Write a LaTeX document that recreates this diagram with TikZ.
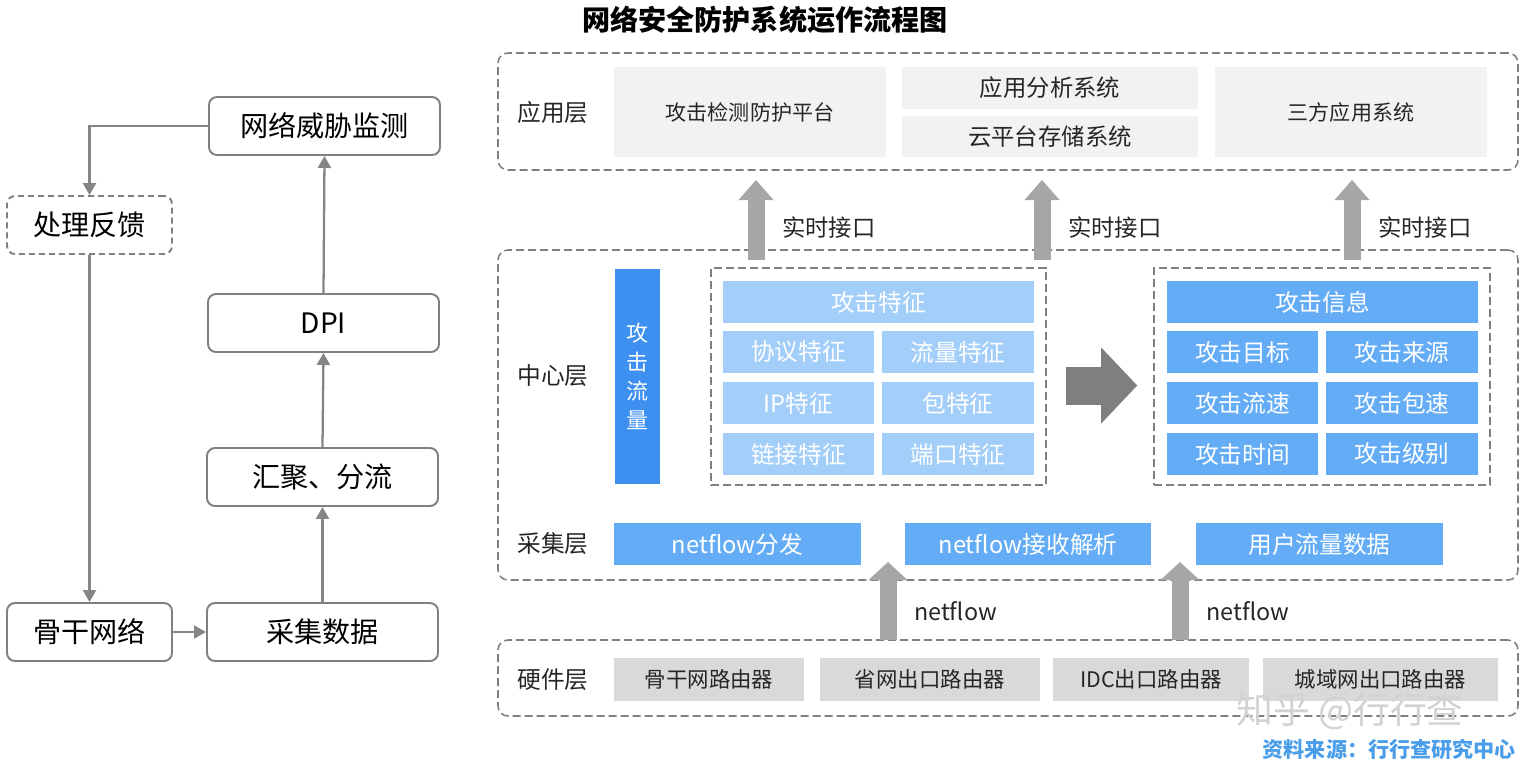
\documentclass[tikz,border=0pt]{standalone}
\usepackage{fontspec}
\setmainfont{Noto Sans CJK SC}
\usetikzlibrary{arrows.meta,fit,calc}

\definecolor{linegray}{HTML}{808080}
\definecolor{arrowgray}{HTML}{858585}
\definecolor{blockgray}{HTML}{A6A6A6}
\definecolor{bigarrowgray}{HTML}{7F7F7F}
\definecolor{appfill}{HTML}{F2F2F2}
\definecolor{hwfill}{HTML}{D9D9D9}
\definecolor{darkblue}{HTML}{3D8FF0}
\definecolor{midblue}{HTML}{64ADF6}
\definecolor{lightblue}{HTML}{A2CEF9}
\definecolor{srcblue}{HTML}{4A9DE8}
\definecolor{textdark}{HTML}{262626}

\tikzset{
  flowtxt/.style={label={[text=black, font=\fontsize{16}{18}\selectfont]center:#1}},
  apptxt/.style={label={[text=textdark, font=\fontsize{12}{14}\selectfont]center:#1}},
  appbigtxt/.style={label={[text=textdark, font=\fontsize{13.3}{15}\selectfont]center:#1}},
  hwtxt/.style={label={[text=textdark, font=\fontsize{12.2}{14}\selectfont]center:#1}},
  celltxt/.style={label={[text=white, font=\fontsize{13.5}{15}\selectfont]center:#1}},
  flowbox/.style={draw=linegray, line width=1.1pt, rounded corners=0.16cm, fill=white, inner sep=0pt},
  flowdash/.style={flowbox, dash pattern=on 0.12cm off 0.08cm},
  flowarrow/.style={draw=arrowgray, line width=1.3pt, -{Triangle[width=0.26cm,length=0.24cm]}},
  layerbox/.style={draw=linegray, line width=0.9pt, rounded corners=0.2cm,
    dash pattern=on 0.16cm off 0.08cm, inner sep=0pt},
  innerbox/.style={draw=linegray, line width=0.9pt, dash pattern=on 0.16cm off 0.08cm, inner sep=0pt},
  layername/.style={text=textdark, font=\fontsize{13.5}{15}\selectfont},
  appcell/.style={fill=appfill, inner sep=0pt},
  hwcell/.style={fill=hwfill, inner sep=0pt},
  lightcell/.style={fill=lightblue, inner sep=0pt},
  bluecell/.style={fill=midblue, inner sep=0pt},
  blockarrow/.style={draw=blockgray, line width=0.34cm,
    -{Triangle[width=0.7cm,length=0.4cm,line width=0pt]}},
  netarrow/.style={draw=blockgray, line width=0.34cm,
    -{Triangle[width=0.78cm,length=0.36cm,line width=0pt]}},
  fatarrow/.style={draw=bigarrowgray, line width=0.76cm,
    -{Triangle[width=1.52cm,length=0.72cm,line width=0pt]}},
  sidetext/.style={anchor=west, text=textdark, font=\fontsize{13.3}{15}\selectfont}
}

\begin{document}
\begin{tikzpicture}[x=0.02cm, y=-0.02cm]
  \useasboundingbox (0,0) rectangle (1530,769);

  % flow on the left
  \node[flowbox, fit={(209,97) (440,155)}, flowtxt=网络威胁监测] (monitor) {};
  \node[flowdash, fit={(7,196) (172,254)}, flowtxt=处理反馈] (feedback) {};
  \node[flowbox, fit={(208,294) (439,352)}, flowtxt=DPI] (dpi) {};
  \node[flowbox, fit={(207,448) (438,506)}, flowtxt=汇聚、分流] (converge) {};
  \node[flowbox, fit={(7,603) (172,661)}, flowtxt=骨干网络] (backbone) {};
  \node[flowbox, fit={(207,603) (438,661)}, flowtxt=采集数据] (collect) {};

  \draw[flowarrow] (monitor.west) -| (feedback.north);
  \draw[flowarrow] (feedback.south) -- (backbone.north);
  \draw[flowarrow] (backbone.east) -- (collect.west);
  \draw[flowarrow] (collect.north) -- (converge.south);
  \draw[flowarrow] (converge.north) -- (dpi.south);
  \draw[flowarrow] (dpi.north) -- (monitor.south);

  % layers
  \node[text=black, font=\bfseries\fontsize{16}{18}\selectfont] (title) at (765,20) {网络安全防护系统运作流程图};

  \node[layerbox, fit={(498,53) (1518,170)}] (applayer) {};
  \node[layerbox, fit={(498,250) (1518,580)}] (centre) {};
  \node[layerbox, fit={(498,640) (1518,716)}] (hwlayer) {};

  \node[layername] (appname) at (553,112) {应用层};
  \node[layername] (centrename) at (553,376) {中心层};
  \node[layername] (collname) at (553,544) {采集层};
  \node[layername] (hwname) at (553,680) {硬件层};

  % application layer
  \node[appcell, fit={(614,67) (886,157)}, apptxt=攻击检测防护平台] (platform) {};
  \node[appcell, fit={(902,67) (1198,109)}, appbigtxt=应用分析系统] (analysis) {};
  \node[appcell, fit={(902,116) (1198,157)}, appbigtxt=云平台存储系统] (cloud) {};
  \node[appcell, fit={(1215,67) (1487,157)}, apptxt=三方应用系统] (third) {};

  \foreach \x/\n in {756/1, 1042/2, 1352/3} {
    \coordinate (rtfrom\n) at (\x,260);
    \coordinate (rtto\n) at (\x,180);
    \draw[blockarrow] (rtfrom\n) -- (rtto\n);
    \node[sidetext] (rtname\n) at (\x+20,228) {实时接口};
  }

  % centre layer
  \node[fill=darkblue, inner sep=0pt, fit={(615,269) (660,484)}] (flowbar) {};
  \node[text=white, align=center, font=\fontsize{12.5}{16.4}\selectfont] (flowtext) at (flowbar.center) {攻\\击\\流\\量};

  \node[innerbox, fit={(711,268) (1046,485)}] (featbox) {};
  \node[lightcell, fit={(723,281) (1034,323)}, celltxt=攻击特征] (feattitle) {};
  \foreach \r/\ya/\yb/\ta/\tb in {1/331/373/协议特征/流量特征, 2/382/424/IP特征/包特征, 3/433/475/链接特征/端口特征} {
    \node[lightcell, fit={(723,\ya) (874,\yb)}, celltxt=\ta] (featL\r) {};
    \node[lightcell, fit={(882,\ya) (1034,\yb)}, celltxt=\tb] (featR\r) {};
  }

  \node[innerbox, fit={(1154,268) (1490,485)}] (infobox) {};
  \node[bluecell, fit={(1167,281) (1478,323)}, celltxt=攻击信息] (infotitle) {};
  \foreach \r/\ya/\yb/\ta/\tb in {1/331/373/攻击目标/攻击来源, 2/382/424/攻击流速/攻击包速, 3/433/475/攻击时间/攻击级别} {
    \node[bluecell, fit={(1167,\ya) (1318,\yb)}, celltxt=\ta] (infoL\r) {};
    \node[bluecell, fit={(1326,\ya) (1478,\yb)}, celltxt=\tb] (infoR\r) {};
  }

  \draw[fatarrow] ($(featbox.east)+(19,9)$) -- ($(infobox.west)+(-16,9)$);

  % collection layer
  \node[bluecell, fit={(614,523) (861,565)}, celltxt=netflow分发] (nfsend) {};
  \node[bluecell, fit={(905,523) (1151,565)}, celltxt=netflow接收解析] (nfparse) {};
  \node[bluecell, fit={(1196,523) (1443,565)}, celltxt=用户流量数据] (userflow) {};

  % hardware layer
  \node[hwcell, fit={(614,658) (804,701)}, hwtxt=骨干网路由器] (router1) {};
  \node[hwcell, fit={(820,658) (1040,701)}, hwtxt=省网出口路由器] (router2) {};
  \node[hwcell, fit={(1053,658) (1249,701)}, hwtxt=IDC出口路由器] (router3) {};
  \node[hwcell, fit={(1263,658) (1498,701)}, hwtxt=城域网出口路由器] (router4) {};

  \foreach \x/\n in {888/1, 1180/2} {
    \coordinate (nffrom\n) at (\x,640);
    \coordinate (nfto\n) at (\x,562);
    \draw[netarrow] (nffrom\n) -- (nfto\n);
    \node[sidetext] (nfname\n) at (\x+20,611) {netflow};
  }

  \node[text=gray!35, font=\fontsize{21}{24}\selectfont] (mark) at (1350,711) {知乎 @行行查};
  \node[anchor=east, text=srcblue, font=\bfseries\fontsize{12}{14}\selectfont] (source) at (1522,749) {资料来源：行行查研究中心};
\end{tikzpicture}
\end{document}
